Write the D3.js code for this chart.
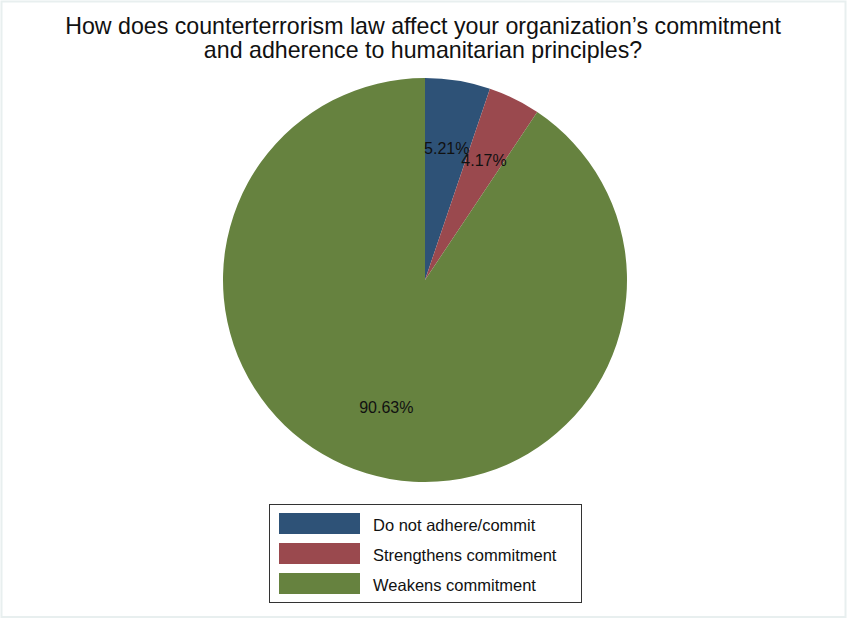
<!DOCTYPE html>
<html>
<head>
<meta charset="utf-8">
<script src="https://cdn.jsdelivr.net/npm/d3@7"></script>
<style>
  html, body { margin: 0; padding: 0; background: #ffffff; }
  svg { display: block; font-family: "Liberation Sans", Arial, sans-serif; }
</style>
</head>
<body>
<svg id="chart" width="848" height="619"></svg>
<script>
// Survey responses (share of organizations, %)
const categories = ["Do not adhere/commit", "Strengthens commitment", "Weakens commitment"];
const shares = [5.21, 4.17, 90.63];
const colors = ["#2e5277", "#9a494e", "#66823f"];
const titleLines = [
  "How does counterterrorism law affect your organization\u2019s commitment",
  "and adherence to humanitarian principles?"
];

const svg = d3.select("#chart");
const W = 848, H = 619;

// faint outer frame
svg.append("rect")
  .attr("x", 1.5).attr("y", 1.5)
  .attr("width", W - 4).attr("height", H - 3.5)
  .attr("fill", "#ffffff")
  .attr("stroke", "#e8efef").attr("stroke-width", 2);

// title
svg.append("g").selectAll("text")
  .data(titleLines)
  .join("text")
  .attr("x", 423)
  .attr("y", (d, i) => 34 + i * 24)
  .attr("text-anchor", "middle")
  .attr("font-size", 23.2)
  .attr("fill", "#111")
  .text(d => d);

// pie
const cx = 425, cy = 280, R = 202;
const data = categories.map((c, i) => ({ cat: c, value: shares[i], color: colors[i] }));
const pie = d3.pie().sort(null).value(d => d.value);
const arcs = pie(data);
const arc = d3.arc().innerRadius(0).outerRadius(R);
const labelArc = d3.arc().innerRadius(R * 0.66).outerRadius(R * 0.66);

const g = svg.append("g").attr("transform", `translate(${cx},${cy})`);
g.selectAll("path")
  .data(arcs)
  .join("path")
  .attr("d", arc)
  .attr("fill", d => d.data.color);

g.selectAll("text")
  .data(arcs)
  .join("text")
  .attr("transform", d => `translate(${labelArc.centroid(d)})`)
  .attr("text-anchor", "middle")
  .attr("dy", "0.36em")
  .attr("font-size", 16)
  .attr("fill", "#111")
  .text(d => d3.format(".2f")(d.data.value) + "%");

// legend
const lg = svg.append("g");
lg.append("rect")
  .attr("x", 269.5).attr("y", 504.5)
  .attr("width", 312).attr("height", 98)
  .attr("fill", "#fff")
  .attr("stroke", "#333").attr("stroke-width", 1);

const rows = lg.selectAll("g.row")
  .data(data)
  .join("g")
  .attr("class", "row")
  .attr("transform", (d, i) => `translate(279,${513 + i * 30})`);
rows.append("rect")
  .attr("width", 81).attr("height", 21)
  .attr("fill", d => d.color);
rows.append("text")
  .attr("x", 94)
  .attr("y", 18)
  .attr("font-size", 16.5)
  .attr("fill", "#111")
  .text(d => d.cat);
</script>
</body>
</html>
